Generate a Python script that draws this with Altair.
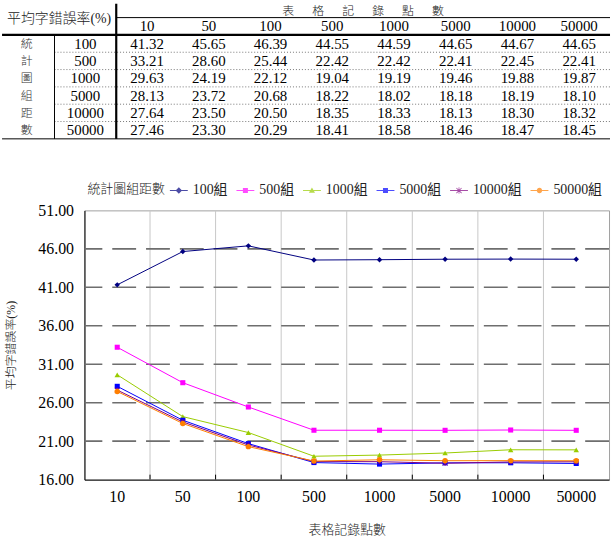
import altair as alt
import pandas as pd

# ---------------------------------------------------------------- data
point_counts = ["10", "50", "100", "500", "1000", "5000", "10000", "50000"]
group_counts = ["100", "500", "1000", "5000", "10000", "50000"]

err_g100 = [41.32, 45.65, 46.39, 44.55, 44.59, 44.65, 44.67, 44.65]
err_g500 = [33.21, 28.60, 25.44, 22.42, 22.42, 22.41, 22.45, 22.41]
err_g1000 = [29.63, 24.19, 22.12, 19.04, 19.19, 19.46, 19.88, 19.87]
err_g5000 = [28.13, 23.72, 20.68, 18.22, 18.02, 18.18, 18.19, 18.10]
err_g10000 = [27.64, 23.50, 20.50, 18.35, 18.33, 18.13, 18.30, 18.32]
err_g50000 = [27.46, 23.30, 20.29, 18.41, 18.58, 18.46, 18.47, 18.45]

y_ticks = [16, 21, 26, 31, 36, 41, 46, 51]
grid_levels = [21, 26, 31, 36, 41, 46]

title_err = "平均字錯誤率(%)"
title_points = "表格記錄點數"
title_groups = "統計圖組距數"
group_suffix = "組"

series_values = [err_g100, err_g500, err_g1000, err_g5000, err_g10000, err_g50000]
series_names = [g + group_suffix for g in group_counts]
series_colors = ["#000080", "#FF00FF", "#99CC00", "#0000FF", "#800080", "#FF7F00"]

# ---------------------------------------------------------------- styles
NUM_FONT = "Liberation Serif, Times New Roman, Times, serif"
CJK_FONT = "Noto Sans CJK TC"
MIX_FONT = "Liberation Serif, Times New Roman, Noto Sans CJK TC, serif"
CJK_WEIGHT = 300

rows = []
for gi, (name, vals) in enumerate(zip(series_names, series_values)):
    for ci, (cat, v) in enumerate(zip(point_counts, vals)):
        rows.append({"series": name, "points": cat, "err": v, "row": gi, "col": ci})
df = pd.DataFrame(rows)

W, H = 528, 271          # plot area of the line chart
TW, TH = 529, 136        # table panel, sharing the plot's left origin

# ================================================================ table
# value column i spans [i, i+1]; the two label columns hang left of the origin
tx = alt.Scale(domain=[-0.515, 8.0], nice=False, zero=False)
ty = alt.Scale(domain=[0, 7.8], nice=False, zero=False, reverse=True)


def tpos(xf, yf):
    return dict(x=alt.X(xf, type="quantitative", scale=tx, axis=None),
                y=alt.Y(yf, type="quantitative", scale=ty, axis=None))


cells = alt.Chart(df).transform_calculate(
    cx="datum.col + 0.5", cy="datum.row + 2.3"
).mark_text(font=NUM_FONT, fontSize=15, color="black").encode(
    **tpos("cx", "cy"), text=alt.Text("err:Q", format=".2f")
)

col_heads = alt.Chart(pd.DataFrame({"label": point_counts, "col": range(len(point_counts))})).transform_calculate(
    cx="datum.col + 0.5", cy="1.3"
).mark_text(font=NUM_FONT, fontSize=15, color="black").encode(**tpos("cx", "cy"), text="label:N")

row_heads = alt.Chart(pd.DataFrame({"label": group_counts, "row": range(len(group_counts))})).transform_calculate(
    cx="-0.5", cy="datum.row + 2.3"
).mark_text(font=NUM_FONT, fontSize=15, color="black").encode(**tpos("cx", "cy"), text="label:N")

row_title = alt.Chart(pd.DataFrame({"ch": list(title_groups), "row": range(len(title_groups))})).transform_calculate(
    cx="-1.45", cy="datum.row + 2.3"
).mark_text(font=CJK_FONT, fontSize=12, fontWeight=CJK_WEIGHT, color="#333").encode(
    **tpos("cx", "cy"), text="ch:N")

corner_title = alt.Chart(pd.DataFrame({"t": [title_err]})).transform_calculate(
    cx="-0.925", cy="0.86"
).mark_text(font=MIX_FONT, fontSize=14, fontWeight=CJK_WEIGHT, color="#222").encode(
    **tpos("cx", "cy"), text="t:N")

# letter-spaced header over the value columns: one glyph per slot, centred on the block
n_ch = len(title_points)
top_title = alt.Chart(pd.DataFrame({"ch": list(title_points), "k": range(n_ch)})).transform_calculate(
    cx=f"4 + (datum.k - {(n_ch - 1) / 2}) * 0.485", cy="0.4"
).mark_text(font=CJK_FONT, fontSize=12, fontWeight=CJK_WEIGHT, color="#222").encode(
    **tpos("cx", "cy"), text="ch:N")

# table ruling: (x0, x1, y0, y1, kind)
ruling = [
    (0, 8, 0.8, 0.8, "thin"),
    (-1.85, 8, 1.8, 1.8, "thick"),
    (-1.85, 8, 7.8, 7.8, "thin"),
    (0, 0, 0, 7.8, "thick"),
    (-1, -1, 1.8, 7.8, "thin"),
] + [(-1, 8, 2.8 + k, 2.8 + k, "dot") for k in range(5)]
rule_df = pd.DataFrame(ruling, columns=["x0", "x1", "y0", "y1", "kind"])


def rule_layer(kind, **mk):
    return alt.Chart(rule_df).transform_filter(alt.datum.kind == kind).mark_rule(**mk).encode(
        x=alt.X("x0:Q", scale=tx, axis=None), x2="x1:Q",
        y=alt.Y("y0:Q", scale=ty, axis=None), y2="y1:Q",
    )


table = alt.layer(
    rule_layer("dot", color="#777", strokeWidth=1, strokeDash=[1, 2]),
    rule_layer("thin", color="black", strokeWidth=1),
    rule_layer("thick", color="black", strokeWidth=2.2),
    cells, col_heads, row_heads, row_title, corner_title, top_title,
).properties(width=TW, height=TH, view=alt.ViewConfig(stroke=None))

# ================================================================ line chart
xs = alt.Scale(type="band", domain=point_counts, paddingInner=0, paddingOuter=0)
ys = alt.Scale(domain=[16, 51], nice=False, zero=False)

axis_x = alt.Axis(title=title_points, titleFont=CJK_FONT, titleFontSize=13, titleFontWeight=CJK_WEIGHT,
                  titleColor="#222", titlePadding=19, labelFont=NUM_FONT, labelFontSize=16,
                  labelColor="black", labelPadding=9, labelAngle=0, ticks=False, grid=False,
                  domainColor="black", domainWidth=1)
axis_y = alt.Axis(title=title_err, titleFont=MIX_FONT, titleFontSize=12, titleFontWeight=CJK_WEIGHT,
                  titleColor="#222", titlePadding=20, values=y_ticks, format=".2f",
                  labelFont=NUM_FONT, labelFontSize=16, labelColor="black", labelPadding=11,
                  ticks=False, grid=False, domainColor="black", domainWidth=1)

X = alt.X("points:N", scale=xs, sort=point_counts, axis=axis_x)
Xedge = alt.X("points:N", scale=xs, sort=point_counts, axis=axis_x, bandPosition=0)
Y = alt.Y("err:Q", scale=ys, axis=axis_y)

hgrid = alt.Chart(pd.DataFrame({"err": grid_levels})).mark_rule(
    color="#6e6e6e", strokeWidth=1.6, strokeDash=[24, 10]
).encode(y=Y)

edges = pd.DataFrame({"points": point_counts[1:]})
vgrid = alt.Chart(edges).mark_rule(color="#c8c8c8", strokeWidth=1).encode(x=Xedge)
inner_ticks = alt.Chart(edges).mark_rule(color="black", strokeWidth=1).encode(
    x=Xedge, y=alt.value(H), y2=alt.value(H - 5)
)

# one line per series, each in its own colour
lines = [
    alt.Chart(df).transform_filter(alt.datum.series == name).mark_line(
        color=col, strokeWidth=1
    ).encode(x=X, y=Y)
    for name, col in zip(series_names, series_colors)
]

x_marker = "M-1,-1L1,1M1,-1L-1,1M0,-1.1V1.1"
point_styles = [
    dict(shape="diamond", filled=True, size=30),
    dict(shape="square", filled=True, size=26),
    dict(shape="triangle-up", filled=True, size=30),
    dict(shape="square", filled=True, size=26),
    dict(shape=x_marker, filled=False, size=22, strokeWidth=1),
    dict(shape="circle", filled=True, size=30),
]
markers = [
    alt.Chart(df).transform_filter(alt.datum.series == name).mark_point(
        color=col, opacity=1, **sty
    ).encode(x=X, y=Y)
    for name, col, sty in zip(series_names, series_colors, point_styles)
]

# legend symbols: a short line segment with the series marker on it
bar = "M-1,-0.055H1V0.055H-1Z"
legend_paths = [
    bar + "M0,-0.36L0.36,0L0,0.36L-0.36,0Z",
    bar + "M-0.28,-0.28H0.28V0.28H-0.28Z",
    bar + "M0,-0.34L0.34,0.26H-0.34Z",
    bar + "M-0.28,-0.28H0.28V0.28H-0.28Z",
    bar + "M-0.32,-0.26L-0.26,-0.32L0.32,0.26L0.26,0.32Z"
        + "M0.26,-0.32L0.32,-0.26L-0.26,0.32L-0.32,0.26Z"
        + "M-0.04,-0.36H0.04V0.36H-0.04Z",
    bar + "M-0.3,0A0.3,0.3,0,1,1,0.3,0A0.3,0.3,0,1,1,-0.3,0Z",
]
legend_def = alt.Legend(
    title=title_groups, orient="none", legendX=3, legendY=-29, direction="horizontal",
    columns=6, titleOrient="left", titleFont=CJK_FONT, titleFontSize=13, titleFontWeight=CJK_WEIGHT,
    titleColor="#222", titlePadding=4, titleBaseline="middle",
    labelFont=MIX_FONT, labelFontSize=14, labelColor="#222", labelOffset=5,
    columnPadding=9, symbolSize=324, symbolStrokeWidth=0, padding=0,
)
legend_layer = alt.Chart(pd.DataFrame({"series": series_names})).mark_point(
    filled=True, clip=True, size=50
).encode(
    x=alt.value(0), y=alt.value(-400),
    color=alt.Color("series:N", scale=alt.Scale(domain=series_names, range=series_colors), legend=legend_def),
    shape=alt.Shape("series:N", scale=alt.Scale(domain=series_names, range=legend_paths), legend=legend_def),
)

plot = alt.layer(vgrid, hgrid, inner_ticks, *lines, *markers, legend_layer).properties(
    width=W, height=H, view=alt.ViewConfig(stroke="#a0a0a0", strokeWidth=1)
)

chart = alt.concat(table, plot, columns=1, spacing=40).resolve_legend(
    color="independent", shape="independent"
).properties(padding=0, background="white")

chart.save("out.html", embed_options={"renderer": "svg", "actions": False})
